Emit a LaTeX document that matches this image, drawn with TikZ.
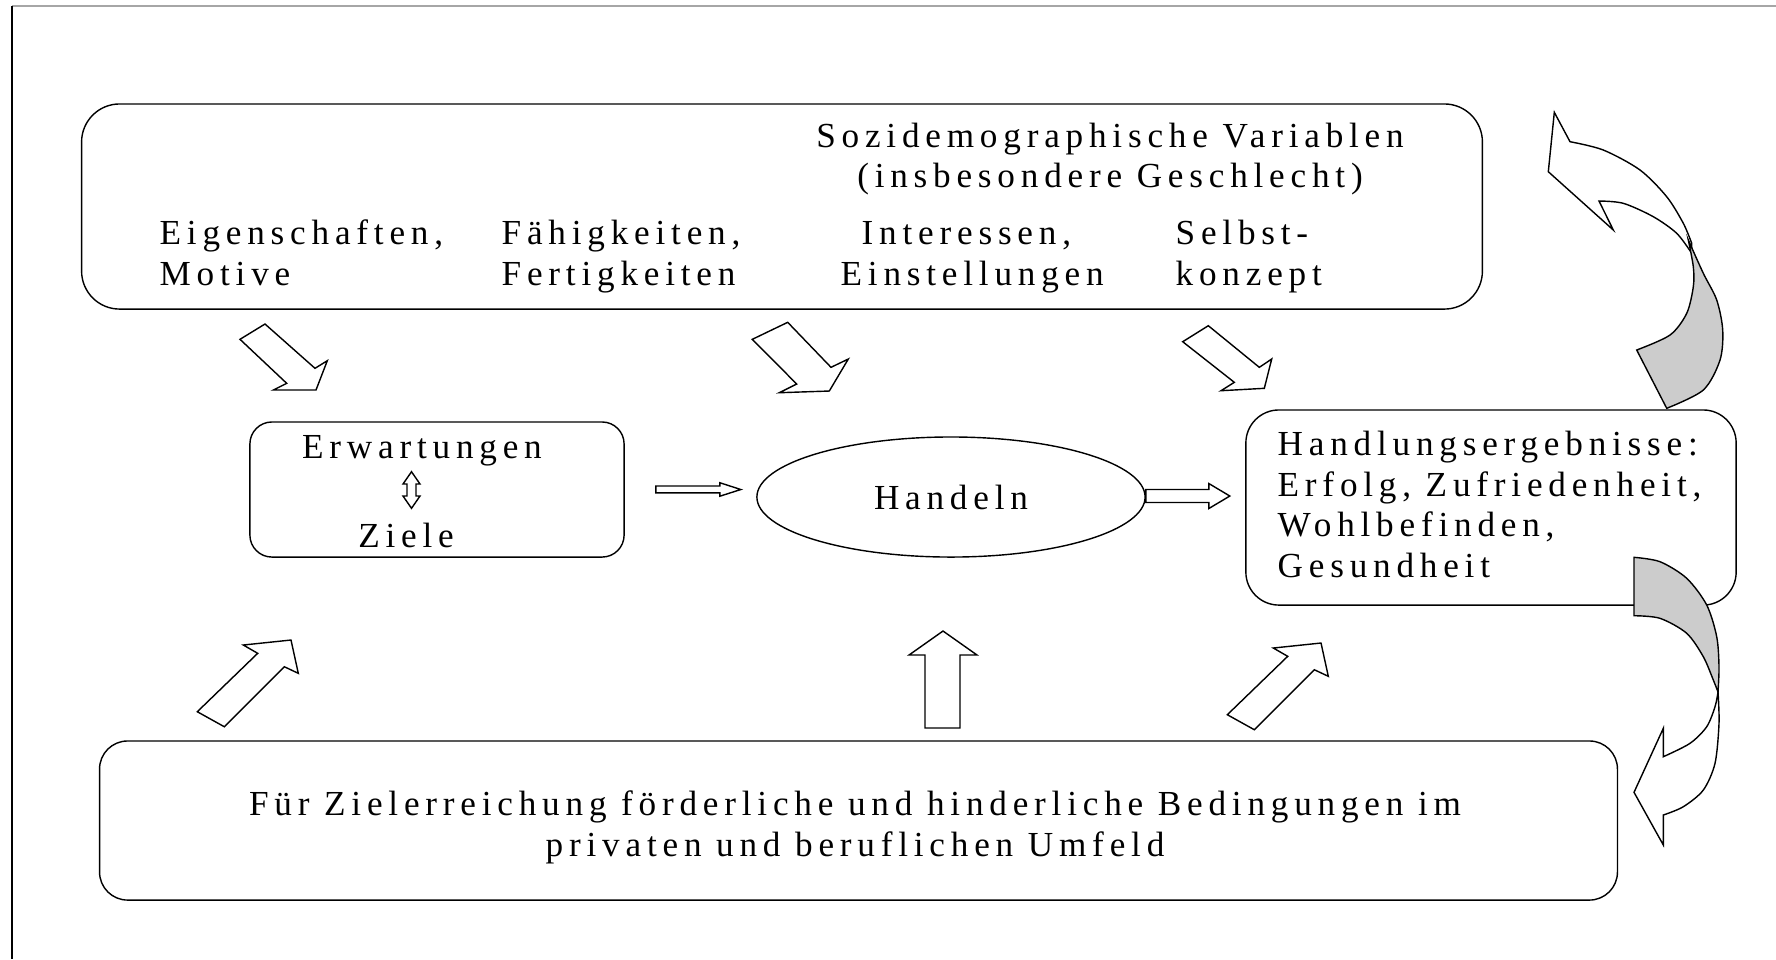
\documentclass[tikz,border=0pt]{standalone}
\usepackage{fontspec}
\setmainfont{Liberation Serif}[LetterSpace=16.5]
\usetikzlibrary{shapes.geometric,calc}
\begin{document}
\begin{tikzpicture}[
        x=0.01cm, y=-0.01cm,
        roundbox/.style={draw, rectangle, inner sep=0pt},
        txt/.style={inner sep=0pt, font=\fontsize{10pt}{11.5pt}\selectfont},
        blockarrow/.style={draw, fill=white},
        twist/.style={draw, fill=gray!40}
    ]
        \useasboundingbox (0,0) rectangle (1776,959);

        % Frame
        \draw[gray!70] (12,6) -- (1776,6);
        \draw[line width=0.5pt] (12,6) -- (12,959);

        % Boxes
        \node[roundbox, rounded corners=0.38cm, minimum width=14cm, minimum height=2.05cm] (merkmale) at (782,206.5) {};
        \node[roundbox, rounded corners=0.22cm, minimum width=3.74cm, minimum height=1.35cm] (erw) at (437,489.5) {};
        \node[draw, ellipse, inner sep=0pt, minimum width=3.88cm, minimum height=1.2cm, txt] (handeln) at (951,497) {Handeln};
        \node[roundbox, rounded corners=0.33cm, minimum width=4.9cm, minimum height=1.95cm] (erg) at (1491,507.5) {};
        \node[roundbox, rounded corners=0.28cm, minimum width=15.17cm, minimum height=1.59cm] (bed) at (858.5,820.5) {};

        % Texts (base = last line)
        \node[txt, anchor=base, align=center] (sozio) at (1110,187.5) {Sozidemographische Variablen\\(insbesondere Geschlecht)};
        \node[txt, anchor=base west, align=left] (eig) at (159,285) {Eigenschaften,\\Motive};
        \node[txt, anchor=base west, align=left] (fae) at (501,285) {Fähigkeiten,\\Fertigkeiten};
        \node[txt, anchor=base west, align=left] (int) at (840,285) {\hspace*{0.21cm}Interessen,\\Einstellungen};
        \node[txt, anchor=base west, align=left] (selbst) at (1175,285) {Selbst-\\konzept};
        \node[txt, anchor=base] (erwtext) at (422,458) {Erwartungen};
        \node[txt, anchor=base] (ziele) at (406,547) {Ziele};
        \node[txt, anchor=base west, align=left] (ergtext) at (1277,577) {Handlungsergebnisse:\\Erfolg, Zufriedenheit,\\Wohlbefinden,\\Gesundheit};
        \node[txt, anchor=base, align=center] (bedtext) at (855,856) {Für Zielerreichung förderliche und hinderliche Bedingungen im\\privaten und beruflichen Umfeld};

        % Erwartungen <-> Ziele
        \draw[blockarrow] (411.5,471.7) -- (420,484) -- (416,484) -- (416,496) -- (420,496) -- (411.5,508.3)
            -- (403,496) -- (407,496) -- (407,484) -- (403,484) -- cycle;

        % Horizontal arrows
        \draw[blockarrow] ($(erw.east)+(31,-3.5)$) -- ++(64,0) -- ++(0,-3.3) -- ++(21,6.8) -- ++(-21,6.7)
            -- ++(0,-3.3) -- ++(-64,0) -- cycle;
        \draw[blockarrow] ($(handeln.east)+(0,-7.5)$) -- ++(63,0) -- ++(0,-6) -- ++(21,12.5) -- ++(-21,12.5)
            -- ++(0,-6) -- ++(-63,0) -- cycle;

        % Arrows from the top box
        \draw[blockarrow] (240,339.3) -- (265,324) -- (315,368.3) -- (327.3,360.7) -- (316,390) -- (273.3,390) -- (286.7,383.3) -- cycle;
        \draw[blockarrow] (752.3,339.3) -- (787.7,322.3) -- (831,367.3) -- (848.3,359) -- (829.3,391) -- (779.3,392.7) -- (796.7,384) -- cycle;
        \draw[blockarrow] (1182.7,341.7) -- (1208.3,325.7) -- (1259.3,367.3) -- (1271.7,359) -- (1264.3,388.3) -- (1221,390.7) -- (1234.3,382.3) -- cycle;

        % Arrows from the bottom box
        \draw[blockarrow] (224.3,726.7) -- (197.3,711.7) -- (257.7,653.3) -- (243.3,645) -- (291,640) -- (298.3,673.3) -- (284.3,666.7) -- cycle;
        \draw[blockarrow, shift={(1030,3)}] (224.3,726.7) -- (197.3,711.7) -- (257.7,653.3) -- (243.3,645) -- (291,640) -- (298.3,673.3) -- (284.3,666.7) -- cycle;
        \draw[blockarrow] (925,728) -- (925,655) -- (909,655) -- (943,631) -- (977,655) -- (960,655) -- (960,728) -- cycle;

        % Curved arrow up
        \draw[blockarrow] (1554.3,112.3) -- (1570,141.7)
            -- plot[smooth] coordinates {(1570,141.7) (1603.3,150) (1640,170) (1666.7,196.7) (1683.3,223.3) (1691.7,243.3)}
            -- plot[smooth] coordinates {(1691.7,253.3) (1676.7,233.3) (1653.3,216.7) (1623.3,203.3) (1599,201)}
            -- (1613.3,230) -- (1548.3,171.7) -- cycle;
        \draw[twist] plot[smooth] coordinates {(1688.3,240) (1703.3,273.3) (1716.7,300) (1722.7,330) (1720,360) (1703.3,390) (1666.7,408.3)}
            -- (1636.7,350)
            -- plot[smooth] coordinates {(1636.7,350) (1670,335) (1686.7,313.3) (1693.3,286.7) (1693.3,266.7) (1688.3,240)} -- cycle;

        % Curved arrow down
        \draw[blockarrow] plot[smooth] coordinates {(1718,692) (1719,723.3) (1715,763.3) (1703.3,790) (1683.3,806.7) (1663.3,815)}
            -- (1663.3,845) -- (1634,792.3) -- (1663.3,728.3) -- (1663.3,756.7)
            -- plot[smooth] coordinates {(1663.3,756.7) (1690,743.3) (1706.7,726.7) (1715,706.7) (1718,692)} -- cycle;
        \draw[twist] (1634,615.7) -- (1634,557.3)
            -- plot[smooth] coordinates {(1634,557.3) (1660,561.7) (1686.7,578.3) (1706.7,605) (1716.7,636.7) (1719,666.7) (1718,692)}
            -- plot[smooth] coordinates {(1718,692) (1713.3,680) (1703.3,656.7) (1686.7,633.3) (1660,618.3) (1634,615.7)} -- cycle;
    \end{tikzpicture}
\end{document}
